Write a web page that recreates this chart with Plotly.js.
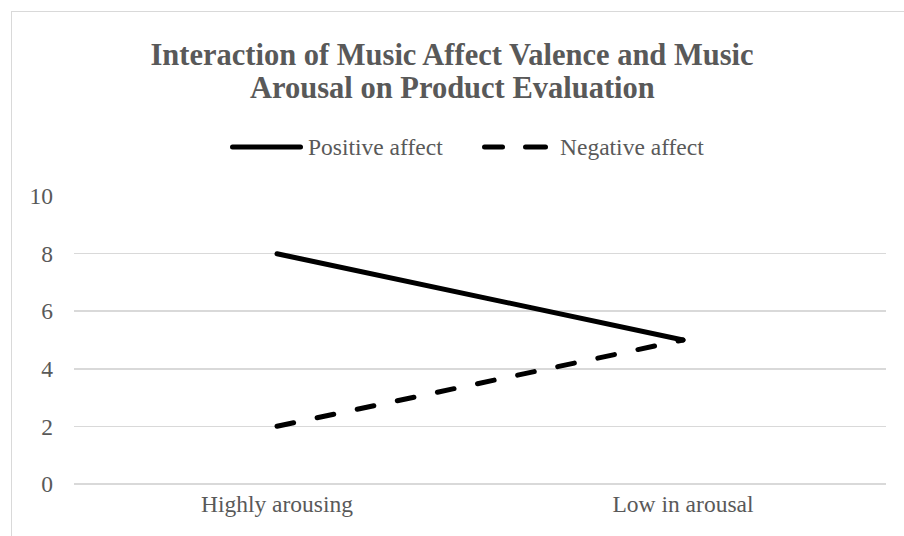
<!DOCTYPE html>
<html>
<head>
<meta charset="utf-8">
<script src="https://cdn.plot.ly/plotly-3.0.1.min.js"></script>
<style>
  html, body { margin: 0; padding: 0; background: #ffffff; overflow: hidden; }
  #wrap { position: relative; width: 904px; height: 536px; }
  #frame { position: absolute; left: 11px; top: 11px; width: 1000px; height: 1000px;
           border: 1.5px solid #d9d9d9; box-sizing: border-box; pointer-events: none; }
  #chart { position: absolute; left: 0; top: 0; width: 904px; height: 536px; }
  .scatterlayer path.js-line, .shapelayer path { stroke-linecap: round; }
</style>
</head>
<body>
<div id="wrap">
  <div id="chart"></div>
  <div id="frame"></div>
</div>
<script>
// Categories and series values
var categories = ["Highly arousing", "Low in arousal"];
var positiveAffect = [8, 5];
var negativeAffect = [2, 5];
var seriesNames = ["Positive affect", "Negative affect"];
var yTicks = [0, 2, 4, 6, 8, 10];
var titleLines = ["Interaction of Music Affect Valence and Music",
                  "Arousal on Product Evaluation"];

var serif = "Liberation Serif, Times New Roman, serif";
var gray = "#595959";
var labelSize = 23.5;
var titleFont = {family: serif, size: 30.5, color: gray, weight: "bold"};

var W = 904, H = 536;
var M = {l: 74, r: 18, t: 196, b: 52};
var pw = W - M.l - M.r, ph = H - M.t - M.b;
// pixel -> paper helpers for the hand-placed legend and title lines
function px(x) { return (x - M.l) / pw; }
function py(y) { return (H - M.b - y) / ph; }

var traces = [
  {
    x: categories, y: positiveAffect, name: seriesNames[0],
    type: "scatter", mode: "lines",
    line: {color: "#000000", width: 5},
    hoverinfo: "skip", showlegend: false
  },
  {
    x: categories, y: negativeAffect, name: seriesNames[1],
    type: "scatter", mode: "lines",
    line: {color: "#000000", width: 5, dash: "17px,24px"},
    hoverinfo: "skip", showlegend: false
  }
];

var legY = 147;
var shapes = [
  {type: "line", xref: "paper", yref: "paper",
   x0: px(232.5), x1: px(300.5), y0: py(legY), y1: py(legY),
   line: {color: "#000000", width: 5}},
  {type: "line", xref: "paper", yref: "paper",
   x0: px(484.5), x1: px(502.5), y0: py(legY), y1: py(legY),
   line: {color: "#000000", width: 5}},
  {type: "line", xref: "paper", yref: "paper",
   x0: px(525.5), x1: px(545.5), y0: py(legY), y1: py(legY),
   line: {color: "#000000", width: 5}}
];

var annotations = [
  {text: titleLines[1], xref: "paper", yref: "paper",
   x: px(452), y: py(88), xanchor: "center", yanchor: "middle",
   showarrow: false, font: titleFont},
  {text: seriesNames[0], xref: "paper", yref: "paper",
   x: px(306), y: py(legY), xanchor: "left", yanchor: "middle",
   showarrow: false, font: {family: serif, size: labelSize, color: gray}},
  {text: seriesNames[1], xref: "paper", yref: "paper",
   x: px(558), y: py(legY), xanchor: "left", yanchor: "middle",
   showarrow: false, font: {family: serif, size: labelSize, color: gray}}
];

var layout = {
  width: W, height: H,
  margin: M,
  paper_bgcolor: "rgba(0,0,0,0)",
  plot_bgcolor: "rgba(0,0,0,0)",
  showlegend: false,
  title: {
    text: titleLines[0],
    x: 0.5, xanchor: "center",
    y: 1 - 54 / H, yanchor: "middle",
    font: titleFont
  },
  xaxis: {
    type: "category",
    range: [-0.5, 1.5],
    showgrid: false, zeroline: false, showline: false,
    ticks: "", ticklabelstandoff: 3,
    tickfont: {family: serif, size: labelSize, color: gray}
  },
  yaxis: {
    range: [-0.005, 10.005],
    tickvals: yTicks,
    showgrid: true, gridcolor: "#d9d9d9", gridwidth: 1.5,
    zeroline: true, zerolinecolor: "#d9d9d9", zerolinewidth: 1.5,
    showline: false,
    ticks: "", ticklabelstandoff: 20,
    tickfont: {family: serif, size: labelSize, color: gray}
  },
  shapes: shapes,
  annotations: annotations
};

Plotly.newPlot("chart", traces, layout, {displayModeBar: false, staticPlot: true});
</script>
</body>
</html>
